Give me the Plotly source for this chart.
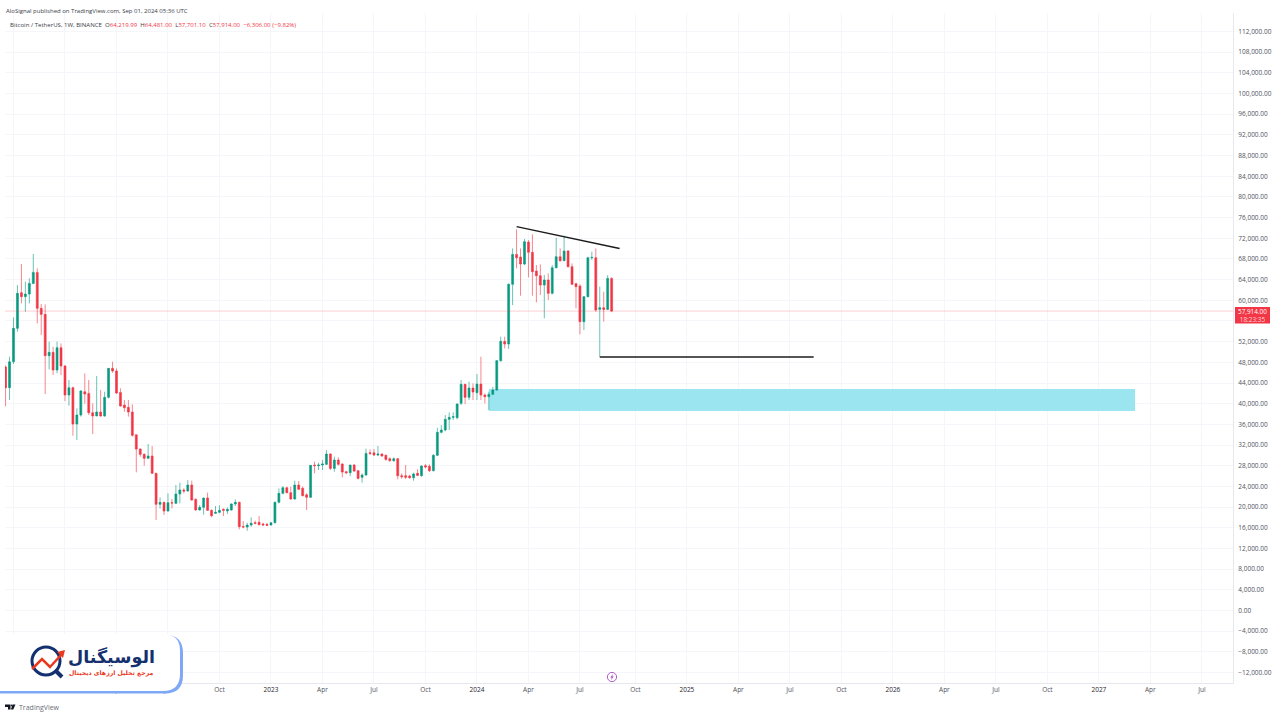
import plotly.graph_objects as go
import pandas as pd

first_week = "2021-09-20"
opens = [47100,43100,48100,54570,61470,60700,61210,63270,65400,58440,
 57280,49280,49930,46510,50830,47285,41675,43095,36070,37810,
 42300,41990,38260,37615,38390,37615,41225,46835,46320,42190,
 39740,39290,38390,34000,31230,30200,29430,29880,26530,20530,
 20915,19240,20855,20725,22530,23305,23110,24270,21500,19440,
 19955,21760,19370,18790,18985,19565,19245,19440,20600,20920,
 16215,16150,16535,16990,17050,16730,16665,16535,16990,20920,
 22660,23755,22790,21565,24270,23630,22400,21885,28130,28010,
 28135,28265,30265,27490,29105,28330,26845,26655,28135,27040,
 25750,26200,30520,30520,30070,30265,30005,29360,28975,29360,
 26075,26075,26000,25685,26525,26075,28010,27880,27040,30005,
 34455,34905,36970,37355,37290,40065,43740,41225,43030,42130,
 43800,41670,41350,41805,42640,48320,52060,51540,63080,68880,
 68365,67010,71270,69270,65660,64760,62950,63920,61340,66300,
 68430,67660,69530,66500,63210,62760,55860,60695,68240,68240,
 58245,58570,58240,64219.99]
highs = [47400,49090,56700,62950,67000,63600,64240,68950,66175,59275,
 59200,52000,51000,52000,51670,47480,44580,43290,39100,42640,
 45870,44580,40070,45350,42640,42320,46900,48125,46835,42970,
 40710,40710,39870,34000,31360,30400,32200,31810,26650,21880,
 21040,22660,21565,24270,24725,23630,25240,25110,21695,20405,
 21820,22790,19565,20210,20340,19760,19955,20725,21500,21050,
 17245,16990,18020,17375,18275,16990,16925,16990,21050,23610,
 24080,23950,23950,25110,25045,24000,22660,28140,28780,28590,
 29105,31040,30390,29750,29620,28460,27040,28200,28330,27170,
 26525,31295,31165,31230,31810,30390,30200,29620,29620,29490,
 26525,28135,26265,26655,27300,28070,28330,28265,30265,35355,
 35870,37805,38320,38320,40065,44575,43865,44255,43930,45740,
 49090,42000,42320,43250,48450,52960,52960,63270,70040,73720,
 70040,71850,71655,72750,66815,66950,64885,65210,66815,72100,
 70040,72490,69720,67140,63400,63080,60825,68430,69400,70040,
 62630,61660,64880,64481]
lows = [39500,40710,47700,53930,59400,57800,59400,63140,55540,53280,
 41870,46640,45550,45870,45540,40515,39610,33810,32970,37490,
 40000,37810,34130,37615,37490,37490,41030,46000,41870,39420,
 38450,37490,33620,26720,29750,28000,29300,26400,17500,19700,
 18470,19110,19760,20600,20730,22660,22985,21240,19310,19310,
 18535,19245,18020,18665,18790,18275,18665,19310,20210,15700,
 15890,15440,16215,16665,16470,16470,16340,16405,16860,20725,
 22470,22660,21435,21435,23305,22080,19440,21760,26525,27170,
 27170,28135,27170,26845,28010,25750,26395,26000,26780,25365,
 24720,26075,30070,29875,29875,29750,28975,28780,28780,25365,
 25490,25430,25490,25105,26000,25880,27490,26780,26910,29875,
 34260,34650,34905,36840,36970,39740,39935,40710,40710,40710,
 40710,40060,38775,41670,42510,48125,50700,50570,59080,66175,
 60890,66815,64430,60890,59600,61015,56500,60050,61150,66175,
 67465,67590,66370,62950,58440,53410,54250,60560,67790,57790,
 49090,55860,58115,57701.10]
closes = [43100,48100,54570,61340,60700,61210,63270,65400,58440,57280,
 49280,49930,46510,50830,47285,41675,43095,36070,37810,42450,
 41870,38260,37615,38390,37615,41225,46835,46320,42065,39550,
 39225,38390,33875,31230,30200,29430,29880,26530,20530,20915,
 19240,20850,20790,22530,23305,23110,24270,21370,19440,19955,
 21760,19370,18340,18985,19370,19370,19565,20600,20920,16215,
 16150,16535,16860,16860,16600,16535,16470,16990,20920,22660,
 23755,22790,21565,24270,23435,22210,21885,28075,28010,28135,
 28330,30265,27490,29105,28265,26780,26655,28135,26975,25555,
 26200,30390,30390,30070,30265,29875,29230,28975,29360,26075,
 25880,25750,25685,26395,26135,27945,27750,27040,30005,34455,
 34905,36970,37355,37485,39935,43740,41225,43030,42255,43800,
 41670,41350,41805,42640,48320,52060,51540,63080,68880,68240,
 67010,71330,69270,65530,64760,62950,63920,61340,66300,68430,
 67660,69530,66500,63080,62630,55860,60695,68240,68300,58115,
 58570,58240,64240,57914]
last_price = 57914

trend_dates = ["2024-03-11", "2024-09-09"]
trend_prices = [74250, 70020]
support_dates = ["2024-08-05", "2025-08-18"]
support_prices = [49040, 49040]
zone_dates = ["2024-01-22", "2027-03-09"]
zone_prices = [38590, 42840]

tick_dates = ["2021-10-04","2022-01-03","2022-04-04","2022-07-04","2022-10-03","2023-01-02",
 "2023-04-03","2023-07-03","2023-10-02","2024-01-01","2024-04-01","2024-07-01","2024-10-07",
 "2025-01-06","2025-04-07","2025-07-07","2025-10-06","2026-01-05","2026-04-06","2026-07-06",
 "2026-10-05","2027-01-04","2027-04-05","2027-07-05"]
tick_names = ["Oct","2022","Apr","Jul","Oct","2023","Apr","Jul","Oct","2024","Apr","Jul","Oct",
 "2025","Apr","Jul","Oct","2026","Apr","Jul","Oct","2027","Apr","Jul"]
price_ticks = list(range(-12000, 112001, 4000))
price_hidden = [56000]  # covered by the last-price tag

GREEN, RED = "#089981", "#f23645"
GREY = "#50535e"
FONT = "Open Sans"
L, R, T, B = 5, 1233, 13, 683
def px(x): return (x - L) / (R - L)
def py(y): return 1 - (y - T) / (B - T)
def path(*pts, close=True):
    d = "M" + " L".join(f"{px(x):.5f},{py(y):.5f}" for x, y in pts)
    return d + (" Z" if close else "")
def round_box(x0, y0, x1, y1, r):
    return (f"M{px(x0):.5f},{py(y0):.5f} L{px(x1-r):.5f},{py(y0):.5f} "
            f"Q{px(x1):.5f},{py(y0):.5f} {px(x1):.5f},{py(y0+r):.5f} "
            f"L{px(x1):.5f},{py(y1-r):.5f} Q{px(x1):.5f},{py(y1):.5f} {px(x1-r):.5f},{py(y1):.5f} "
            f"L{px(x0):.5f},{py(y1):.5f} Z")

dates = pd.date_range(first_week, periods=len(opens), freq="7D")
fig = go.Figure()
fig.add_trace(go.Candlestick(
    x=dates, open=opens, high=highs, low=lows, close=closes, whiskerwidth=0,
    increasing=dict(line=dict(color="rgba(8,153,129,0.6)", width=1), fillcolor=GREEN),
    decreasing=dict(line=dict(color="rgba(242,54,69,0.6)", width=1), fillcolor=RED),
    showlegend=False, hoverinfo="skip"))
for xs, ys in [(trend_dates, trend_prices), (support_dates, support_prices)]:
    fig.add_trace(go.Scatter(x=xs, y=ys, mode="lines", showlegend=False, hoverinfo="skip",
                             line=dict(color="#1c1c1c", width=1.5)))

def shp(d, fill=None, line=None, w=0, layer="above"):
    return dict(type="path", path=d, xref="paper", yref="paper", layer=layer,
                fillcolor=fill or "rgba(0,0,0,0)", line=dict(color=line or "rgba(0,0,0,0)", width=w))
def circ(cx, cy, r, line, w, fill=None):
    return dict(type="circle", xref="paper", yref="paper", x0=px(cx-r), x1=px(cx+r), y0=py(cy+r), y1=py(cy-r),
                line=dict(color=line, width=w), fillcolor=fill or "rgba(0,0,0,0)", layer="above")

shapes = [
    dict(type="rect", xref="x", yref="y", x0=zone_dates[0], x1=zone_dates[1], y0=zone_prices[0], y1=zone_prices[1],
         fillcolor="#9be5f0", line=dict(width=0), layer="between"),
    dict(type="line", xref="paper", yref="y", x0=0, x1=1, y0=last_price, y1=last_price,
         line=dict(color="rgba(242,54,69,0.3)", width=0.8), layer="above"),
    dict(type="rect", xref="paper", yref="paper", x0=px(1235), x1=px(1270), y0=py(323.5), y1=py(307),
         fillcolor=RED, line=dict(width=0), layer="above"),
    # logo card
    shp(round_box(-20, 635, 183, 693.5, 18), fill="#7ea8f6"),
    shp(round_box(-20, 634, 180, 691, 17), fill="#ffffff"),
    circ(46, 661, 14, "#14306e", 3),
    shp(path((55, 670), (62, 677), close=False), line="#14306e", w=4),
    shp(path((32, 669), (42, 659), (50, 667), (62, 654), close=False), line="#e8391f", w=2.5),
    shp(path((65, 650), (57, 652), (63, 658)), fill="#e8391f"),
    # TradingView mark
    shp(path((5, 704.5), (10.5, 704.5), (10.5, 709.5), (8, 709.5), (8, 707), (5, 707)), fill="#131722"),
    circ(11.8, 705.5, 1, "#131722", 0, "#131722"),
    shp(path((12.8, 704.5), (15.5, 704.5), (13.3, 709.5), (10.8, 709.5)), fill="#131722"),
    # lightning badge
    circ(612, 677, 4.6, "#a64bc4", 0.9),
    shp(path((613, 673.8), (610.3, 677.6), (611.8, 677.6), (611, 680.2), (613.7, 676.4), (612.2, 676.4)), fill="#a64bc4"),
]

def note(text, x, y, size, color, anchor="left", family=FONT):
    return dict(text=text, xref="paper", yref="paper", x=px(x), y=py(y), xanchor=anchor, yanchor="middle",
                showarrow=False, font=dict(family=family, size=size, color=color))
def v(t): return f'<span style="color:{RED}">{t}</span>'
annotations = [
    note("AloSignal published on TradingView.com, Sep 01, 2024 05:36 UTC", 4, 11, 6.0, "#3a3d47"),
    note("Bitcoin / TetherUS, 1W, BINANCE&nbsp;&nbsp;O" + v("64,219.99") + "&nbsp;&nbsp;H" + v("64,481.00")
         + "&nbsp;&nbsp;L" + v("57,701.10") + "&nbsp;&nbsp;C" + v("57,914.00") + "&nbsp;&nbsp;" + v("−6,306.00 (−9.82%)"),
         8, 25, 6.05, "#3a3d47"),
    note('57,914.00<br><span style="color:#ffd5d9">18:23:35</span>', 1252.5, 315.2, 6.4, "#ffffff", "center"),
    note("TradingView", 17, 707, 7, "#6a6d78"),
    note("<b>الوسیگنال</b>", 111.5, 657, 17.5, "#14306e", "center", "DejaVu Sans"),
    note("<b>مرجع تحلیل ارزهای دیجیتال</b>", 111.5, 672.5, 6.2, "#e8391f", "center", "DejaVu Sans"),
]

ticktext = [f'<span style="color:#1e222d">{n}</span>' if n.isdigit() else n for n in tick_names]
price_text = ["" if p in price_hidden else f"{p:,.2f}".replace("-", "−") for p in price_ticks]
fig.update_layout(
    width=1280, height=720, margin=dict(l=L, r=1280 - R, t=T, b=720 - B, pad=0),
    paper_bgcolor="#ffffff", plot_bgcolor="#ffffff", shapes=shapes, annotations=annotations,
    font=dict(family=FONT, size=6.5, color=GREY),
    xaxis=dict(type="date", range=["2021-09-19", "2027-08-29"], rangeslider=dict(visible=False),
               tickmode="array", tickvals=tick_dates, ticktext=ticktext, ticks="", ticklen=0,
               showgrid=True, gridcolor="#f5f6f9", gridwidth=1, zeroline=False,
               showline=True, linecolor="#e6e8ee", linewidth=1, tickangle=0),
    yaxis=dict(side="right", range=[-14023, 115570], tickmode="array", tickvals=price_ticks, ticktext=price_text,
               ticks="", ticklabelstandoff=3, showgrid=True, gridcolor="#f5f6f9", gridwidth=1, zeroline=False,
               showline=True, linecolor="#e6e8ee", linewidth=1),
)
fig.write_html("out.html", config=dict(displayModeBar=False), post_script="document.body.style.margin='0';")
